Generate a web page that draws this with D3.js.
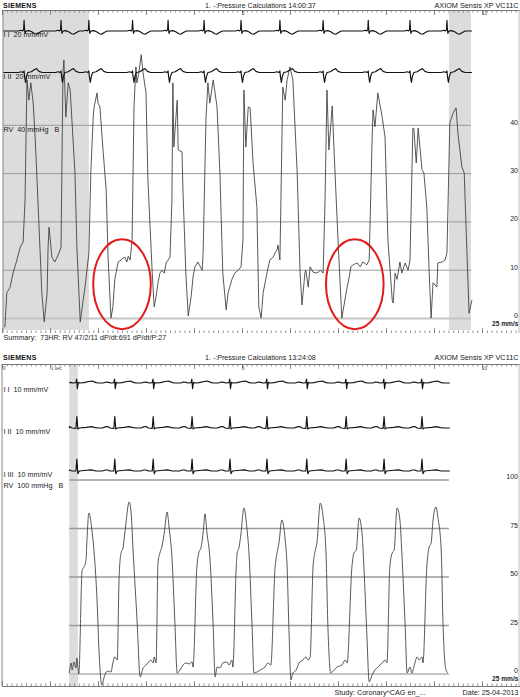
<!DOCTYPE html>
<html><head><meta charset="utf-8">
<script src="https://cdn.jsdelivr.net/npm/d3@7"></script>
<style>
html,body{margin:0;padding:0;background:#fff;}
svg{display:block;font-family:"Liberation Sans",Arial,sans-serif;}
svg text{white-space:pre;}
</style></head><body>
<svg id="c" width="520" height="697"></svg>
<script>
// ---------------- DATA (time in s, pressure in mmHg, ECG in mV) ----------------
const topTitle = "1. -:Pressure Calculations 14:00:37";
const bottomTitle = "1. -:Pressure Calculations 13:24:08";
const brandLabel = "SIEMENS";
const systemLabel = "AXIOM Sensis XP VC11C";
const summaryLabel = "Summary:  73HR: RV 47/2/11 dP/dt:691 dP/dt/P:27";
const studyLabel = "Study: Coronary^CAG en_...";
const dateLabel = "Date: 25-04-2013";
const speedLabel = "25 mm/s";

const topLeadLabels = ["I I  20 mm/mV", "I II  20 mm/mV", "RV  40 mmHg   B"];
const bottomLeadLabels = ["I I  10 mm/mV", "I II  10 mm/mV", "I III  10 mm/mV", "RV  100 mmHg   B"];

const topGridTicks = [0, 10, 20, 30, 40];
const bottomGridTicks = [0, 25, 50, 75, 100];

const topShaded = [[0.02, 1.81], [9.31, 9.77]];
const bottomShaded = [[1.40, 1.58]];
const topSpan = [0.02, 9.77];
const bottomSpan = [1.40, 9.31];

// RV pressure, top recording (40 mmHg scale)
const topRV = [
[0.06,-1.8],[0.10,5.3],[0.17,6.5],[0.23,9.4],[0.31,12.1],[0.38,14.8],[0.44,15.8],[0.48,24.5],[0.52,49.4],[0.56,45.2],[0.60,48.8],[0.65,44.6],[0.69,37.6],[0.73,28.7],[0.79,14.8],[0.83,5.3],[0.88,-0.7],
[0.94,5.3],[0.96,14.8],[0.98,18.9],[1.02,14.8],[1.04,12.7],[1.10,11.7],[1.15,12.7],[1.19,13.6],[1.23,14.8],[1.27,50.8],[1.29,53.5],[1.33,41.7],[1.38,48.8],[1.42,47.3],[1.46,40.5],[1.52,30.1],[1.56,14.8],[1.63,-0.7],
[1.69,3.8],[1.73,6.5],[1.77,10.0],[1.81,13.6],[1.85,30.1],[1.90,41.7],[1.92,43.8],[1.98,46.7],[2.00,44.6],[2.04,43.8],[2.10,35.5],[2.17,26.6],[2.21,12.7],[2.27,0.1],
[2.31,2.4],[2.35,8.1],[2.40,10.7],[2.42,11.7],[2.48,12.1],[2.52,12.5],[2.56,12.7],[2.60,11.7],[2.63,12.9],[2.67,12.1],[2.71,16.3],[2.75,43.8],[2.79,52.1],[2.81,48.8],[2.85,50.8],[2.90,54.6],[2.94,50.8],[3.00,46.7],[3.04,28.7],[3.13,9.4],[3.17,2.4],
[3.21,4.5],[3.25,7.4],[3.29,9.4],[3.33,10.0],[3.38,9.4],[3.42,11.5],[3.46,12.1],[3.50,12.7],[3.54,24.5],[3.56,48.8],[3.58,35.5],[3.65,45.2],[3.67,34.9],[3.75,34.5],[3.77,26.6],[3.83,9.4],[3.88,0.5],
[3.94,4.5],[3.98,8.6],[4.02,10.7],[4.08,11.7],[4.17,10.0],[4.19,13.6],[4.25,41.5],[4.29,48.8],[4.33,44.6],[4.40,49.4],[4.48,43.8],[4.54,30.1],[4.60,9.4],[4.67,1.8],
[4.71,5.3],[4.79,8.1],[4.85,9.4],[4.92,10.0],[4.98,10.7],[5.02,16.3],[5.04,47.3],[5.08,35.5],[5.13,43.8],[5.17,43.6],[5.23,32.2],[5.31,23.1],[5.35,2.4],[5.40,0.1],
[5.44,5.3],[5.52,9.4],[5.58,12.1],[5.65,12.7],[5.69,13.6],[5.73,14.2],[5.75,15.2],[5.79,12.1],[5.85,47.9],[5.90,45.2],[5.94,49.4],[6.00,52.1],[6.06,49.4],[6.15,30.1],[6.21,9.4],[6.25,2.8],
[6.31,9.4],[6.33,10.0],[6.38,6.5],[6.42,10.7],[6.48,9.6],[6.56,9.4],[6.63,10.0],[6.69,9.4],[6.73,24.5],[6.77,47.3],[6.81,34.9],[6.88,44.0],[6.92,34.3],[7.00,16.3],[7.08,0.1],
[7.19,6.5],[7.21,7.4],[7.27,10.7],[7.31,11.1],[7.40,11.5],[7.46,10.7],[7.52,11.7],[7.60,11.1],[7.65,12.1],[7.71,37.0],[7.73,43.2],[7.77,39.7],[7.83,46.7],[7.92,41.7],[7.98,37.6],[8.04,16.3],[8.13,3.8],[8.15,3.2],
[8.19,9.4],[8.23,8.1],[8.29,11.7],[8.33,9.4],[8.40,11.5],[8.46,10.0],[8.50,12.1],[8.56,39.4],[8.58,39.4],[8.63,32.2],[8.67,39.4],[8.75,30.8],[8.79,30.1],[8.85,23.1],[8.90,9.4],[8.94,0.1],
[8.98,7.4],[9.06,6.5],[9.08,11.5],[9.17,11.7],[9.23,12.1],[9.27,13.6],[9.33,40.5],[9.40,42.6],[9.46,43.6],[9.50,38.2],[9.58,31.4],[9.63,30.1],[9.69,12.7],[9.73,1.1],[9.79,3.8]
];

// RV pressure, bottom recording (100 mmHg scale)
const bottomRV = [
[1.40,0.5],[1.44,5.7],[1.46,2.1],[1.50,6.2],[1.54,3.1],[1.56,8.2],[1.60,0],[1.67,53.6],[1.71,55.2],[1.75,58.8],[1.77,69.1],[1.81,83.0],[1.88,72.7],[1.92,62.4],[1.98,38.1],[2.02,12.4],[2.08,-5.7],
[2.13,-1.5],[2.17,1.0],[2.21,1.5],[2.27,1.0],[2.31,5.7],[2.35,8.8],[2.40,7.2],[2.44,50.0],[2.48,62.4],[2.52,64.9],[2.56,72.7],[2.65,88.7],[2.69,83.0],[2.73,63.9],[2.81,29.4],[2.88,-1.5],
[2.94,3.1],[2.98,4.1],[3.04,5.7],[3.10,7.2],[3.15,5.7],[3.17,8.8],[3.21,5.7],[3.25,57.2],[3.29,62.4],[3.33,65.5],[3.38,72.7],[3.44,83.5],[3.48,75.8],[3.54,60.3],[3.60,27.8],[3.65,0.5],
[3.71,2.1],[3.77,4.6],[3.83,5.7],[3.90,5.2],[3.96,6.2],[3.98,3.6],[4.06,55.2],[4.10,62.4],[4.15,65.5],[4.19,72.7],[4.23,82.5],[4.27,72.7],[4.33,60.3],[4.40,24.2],[4.44,-1.5],
[4.48,3.6],[4.54,3.1],[4.60,5.7],[4.69,6.2],[4.73,4.6],[4.79,7.2],[4.81,3.6],[4.88,55.2],[4.90,62.4],[4.94,65.5],[4.98,72.7],[5.04,85.6],[5.10,75.8],[5.15,60.3],[5.21,24.2],[5.25,0.5],
[5.31,1.0],[5.38,2.1],[5.48,3.6],[5.54,5.7],[5.60,4.6],[5.69,55.2],[5.73,62.4],[5.77,67.5],[5.83,79.4],[5.90,69.1],[5.94,55.2],[5.98,21.1],[6.02,-3.1],
[6.06,0.5],[6.13,2.1],[6.19,5.7],[6.27,7.2],[6.33,8.8],[6.38,7.2],[6.42,8.8],[6.48,55.2],[6.52,62.9],[6.56,67.5],[6.63,88.1],[6.69,80.9],[6.75,62.4],[6.79,24.2],[6.85,0.5],
[6.92,2.1],[6.98,3.6],[7.08,4.6],[7.15,7.2],[7.19,5.7],[7.29,55.2],[7.33,62.4],[7.38,63.9],[7.44,80.4],[7.50,72.7],[7.54,55.2],[7.60,21.1],[7.65,-4.1],
[7.71,-0.5],[7.77,2.1],[7.83,3.6],[7.92,5.7],[7.98,7.2],[8.02,5.7],[8.08,55.2],[8.13,62.4],[8.17,63.9],[8.23,85.6],[8.29,79.4],[8.33,62.4],[8.40,24.2],[8.44,0.5],
[8.50,3.6],[8.54,0.5],[8.58,3.6],[8.65,8.8],[8.69,7.2],[8.75,8.8],[8.77,5.7],[8.85,55.2],[8.90,65.5],[8.94,67.5],[8.98,79.4],[9.04,86.1],[9.08,80.9],[9.15,63.9],[9.19,24.2],[9.25,2.1],[9.29,0.5]
];

// ECG R-wave times read from the tracings
const topBeats = [0.46, 1.23, 1.81, 2.72, 3.46, 4.21, 4.98, 5.79, 6.69, 7.63, 8.50, 9.27];
const bottomBeats = [1.56, 2.35, 3.15, 3.96, 4.75, 5.52, 6.35, 7.17, 7.96, 8.75];

// per-lead complex shapes [offset s, mV]
const topLeadI = [[-0.12,0],[-0.06,0.02],[-0.03,0],[-0.01,0.03],[0,0.28],[0.01,0.04],[0.02,-0.06],[0.04,0],[0.1,0.01],[0.16,-0.02],[0.22,-0.07],[0.27,-0.08],[0.32,-0.04],[0.38,0]];
const topLeadII = [[-0.12,0],[-0.06,0.02],[-0.02,0],[0,0.04],[0.01,-0.1],[0.03,-0.26],[0.05,-0.1],[0.08,0],[0.15,0.02],[0.22,0.08],[0.26,0.1],[0.31,0.03],[0.38,0]];
const botLeadI = [[-0.24,0],[-0.18,0.05],[-0.13,0.03],[-0.08,0],[-0.02,0.02],[-0.005,0.2],[0.01,-0.3],[0.03,0.04],[0.06,0],[0.15,0.02],[0.25,0.08],[0.32,0.1],[0.4,0.02],[0.46,0]];
const botLeadII = [[-0.26,0],[-0.2,0.06],[-0.15,0.08],[-0.1,0],[-0.02,-0.02],[0,0.6],[0.02,-0.05],[0.05,0],[0.2,0.03],[0.3,0.07],[0.38,0.02],[0.46,0]];
const botLeadIII = [[-0.26,0],[-0.2,0.05],[-0.15,0.05],[-0.1,0],[-0.02,0],[0,0.62],[0.02,-0.14],[0.05,0],[0.2,0.04],[0.3,0.06],[0.4,0],[0.46,0]];

// red annotation ellipses: [centre s, centre mmHg, half-width s, half-height mmHg]
const topHighlights = [[2.50, 7.1, 0.60, 9.3], [7.35, 7.1, 0.60, 9.3]];

// ---------------- DRAWING ----------------
const svg = d3.select("#c");
const x = d3.scaleLinear().domain([0, 10.8]).range([2, 520.4]);

const yTopP = d3.scaleLinear().domain([0, 40]).range([318.5, 125.3]);
const yBotP = d3.scaleLinear().domain([0, 100]).range([674, 480]);
const ecgScale = (base, pxPerMv) => d3.scaleLinear().domain([0, 1]).range([base, base - pxPerMv]);
const yTopI = ecgScale(31, 38.5), yTopII = ecgScale(72.5, 38.5);
const yBotI = ecgScale(383, 19.2), yBotII = ecgScale(428, 19.2), yBotIII = ecgScale(471, 19.2);

function ecgPoints(beats, shape, t0, t1) {
  const pts = [[t0, 0]];
  beats.forEach(b => shape.forEach(([dt, v]) => { const t = b + dt; if (t > t0 && t < t1) pts.push([t, v]); }));
  pts.push([t1, 0]);
  return pts.sort((a, b) => a[0] - b[0]);
}

function header(yBase, title) {
  svg.append("text").attr("x", 3).attr("y", yBase).attr("font-size", 7).attr("font-weight", "bold")
    .attr("letter-spacing", 0.3).attr("fill", "#111").text(brandLabel);
  svg.append("text").attr("x", 205).attr("y", yBase).attr("font-size", 7.1).attr("fill", "#222").text(title);
  svg.append("text").attr("x", 518.5).attr("y", yBase).attr("font-size", 7.3).attr("text-anchor", "end").attr("fill", "#222").text(systemLabel);
}

function timeAxes(yTop, yBottom, leftX, showBottomDomain) {
  const minor = d3.range(0, 108).map(i => i / 10);
  const major = d3.range(0, 11);
  const g = svg.append("g");
  [[minor, 2.5], [major, 5]].forEach(([vals, size]) => {
    g.append("g").attr("class", "tAx").attr("transform", `translate(0,${yTop})`)
      .call(d3.axisBottom(x).tickValues(vals).tickSize(size).tickFormat(""));
    g.append("g").attr("class", showBottomDomain ? "tAx" : "bAx").attr("transform", `translate(0,${yBottom})`)
      .call(d3.axisTop(x).tickValues(vals).tickSize(size).tickFormat(""));
  });
  g.selectAll(".tAx .domain").attr("stroke", "#777").attr("stroke-width", 1);
  g.selectAll(".bAx .domain").attr("stroke", "none");
  g.selectAll(".tick line").attr("stroke", "#666").attr("stroke-width", 0.7);
  svg.append("line").attr("x1", leftX).attr("x2", leftX).attr("y1", yTop).attr("y2", yBottom)
    .attr("stroke", "#888").attr("stroke-width", 1);
  svg.append("line").attr("x1", 519).attr("x2", 519).attr("y1", yTop).attr("y2", yBottom)
    .attr("stroke", "#bbb").attr("stroke-width", 1);
}

function panel(cfg) {
  const g = svg.append("g");
  g.selectAll("rect.sh").data(cfg.shaded).join("rect")
    .attr("x", d => x(d[0])).attr("width", d => x(d[1]) - x(d[0]))
    .attr("y", cfg.yTop).attr("height", cfg.yBottom - cfg.yTop).attr("fill", "#dcdcdc");
  g.selectAll("line.gr").data(cfg.grid).join("line")
    .attr("x1", x(cfg.span[0])).attr("x2", x(cfg.span[1]))
    .attr("y1", d => cfg.yP(d)).attr("y2", d => cfg.yP(d))
    .attr("stroke", d => d === 0 ? "#c4c4c4" : "#9a9a9a")
    .attr("stroke-width", d => d === 0 ? 2 : cfg.gridW);
  const ax = g.append("g").attr("transform", "translate(518.5,0)")
    .call(d3.axisLeft(cfg.yP).tickValues(cfg.grid).tickSize(0).tickPadding(0.5));
  ax.select(".domain").remove();
  ax.selectAll("text").attr("font-size", 7).attr("font-family", "Liberation Sans, Arial, sans-serif")
    .attr("fill", "#222").attr("dy", "-0.15em");
  g.append("text").attr("x", 518.5).attr("y", cfg.yP(0) + 7).attr("text-anchor", "end")
    .attr("font-size", 6.6).attr("font-weight", "bold").attr("fill", "#222").text(speedLabel);
  g.append("path").datum(cfg.rv).attr("fill", "none").attr("stroke", "#3a3a3a").attr("stroke-width", 0.85)
    .attr("stroke-linejoin", "round")
    .attr("d", d3.line().curve(cfg.curve).x(d => x(d[0])).y(d => cfg.yP(d[1])));
  cfg.leads.forEach(([shape, ys]) => {
    g.append("path").datum(ecgPoints(cfg.beats, shape, cfg.span[0], cfg.span[1] + 0.02))
      .attr("fill", "none").attr("stroke", "#111").attr("stroke-width", 1.15).attr("stroke-linejoin", "round")
      .attr("d", d3.line().x(d => x(d[0])).y(d => ys(d[1])));
  });
  cfg.labels.forEach(([txt, yy]) => {
    g.append("text").attr("x", 3.5).attr("y", yy).attr("font-size", 7.2).attr("fill", "#222").text(txt);
  });
}

// ---- top recording ----
header(7.5, topTitle);
panel({
  yTop: 10, yBottom: 330, shaded: topShaded, span: topSpan, grid: topGridTicks, gridW: 1,
  yP: yTopP, rv: topRV, beats: topBeats, curve: d3.curveLinear,
  leads: [[topLeadI, yTopI], [topLeadII, yTopII]],
  labels: [[topLeadLabels[0], 37], [topLeadLabels[1], 78.5], [topLeadLabels[2], 131.5]]
});
timeAxes(10, 333, 3, false);
svg.append("text").attr("x", x(5)).attr("y", 15).attr("font-size", 4.5).attr("fill", "#444").text("5");
svg.append("text").attr("x", x(10)).attr("y", 15).attr("font-size", 4.5).attr("fill", "#444").text("10");
svg.selectAll("ellipse.hl").data(topHighlights).join("ellipse")
  .attr("cx", d => x(d[0])).attr("cy", d => yTopP(d[1]))
  .attr("rx", d => x(d[2]) - x(0)).attr("ry", d => yTopP(0) - yTopP(d[3]))
  .attr("fill", "none").attr("stroke", "#e21a1a").attr("stroke-width", 2);
svg.append("text").attr("x", 3.5).attr("y", 340).attr("font-size", 7.2).attr("fill", "#222").text(summaryLabel);

// ---- bottom recording ----
header(359.5, bottomTitle);
panel({
  yTop: 364, yBottom: 686, shaded: bottomShaded, span: bottomSpan, grid: bottomGridTicks, gridW: 1.5,
  yP: yBotP, rv: bottomRV, beats: bottomBeats, curve: d3.curveMonotoneX,
  leads: [[botLeadI, yBotI], [botLeadII, yBotII], [botLeadIII, yBotIII]],
  labels: [[bottomLeadLabels[0], 392], [bottomLeadLabels[1], 434], [bottomLeadLabels[2], 477], [bottomLeadLabels[3], 488]]
});
timeAxes(364, 686, 2, true);
svg.append("text").attr("x", x(0) + 1).attr("y", 369.5).attr("font-size", 4.5).attr("fill", "#444").text("0");
svg.append("text").attr("x", x(1) + 1).attr("y", 369.5).attr("font-size", 4.5).attr("fill", "#444").text("1 sec");
svg.append("text").attr("x", x(5)).attr("y", 369.5).attr("font-size", 4.5).attr("fill", "#444").text("5");
svg.append("text").attr("x", x(10)).attr("y", 369.5).attr("font-size", 4.5).attr("fill", "#444").text("10");
svg.append("text").attr("x", 380).attr("y", 695).attr("text-anchor", "middle").attr("font-size", 7.2).attr("fill", "#222").text(studyLabel);
svg.append("text").attr("x", 518.5).attr("y", 695).attr("text-anchor", "end").attr("font-size", 7.2).attr("fill", "#222").text(dateLabel);
</script>
</body></html>
